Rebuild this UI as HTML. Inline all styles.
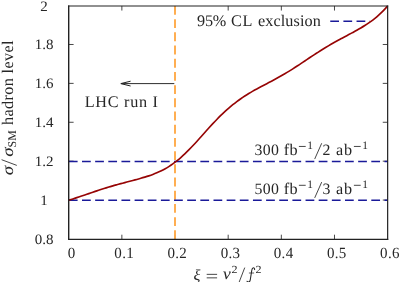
<!DOCTYPE html>
<html><head><meta charset="utf-8"><title>plot</title>
<style>
html,body{margin:0;padding:0;background:#fff;overflow:hidden}
svg{display:block;will-change:transform;text-rendering:geometricPrecision;font-family:"Liberation Serif",serif;fill:#262626}
.tk text{font-size:15px}
.an{font-size:16.2px}
.ln{stroke:#262626;stroke-width:0.85;fill:none}
.it{font-style:italic}
</style></head><body>
<svg width="399" height="282" viewBox="0 0 399 282">
<rect width="399" height="282" fill="#fff"/>
<g stroke="#1a1a1a" fill="none" stroke-width="0.8"><path d="M121.86,239.30 v-4.6 M121.86,5.95 v4.6"/><path d="M175.02,239.30 v-4.6 M175.02,5.95 v4.6"/><path d="M228.18,239.30 v-4.6 M228.18,5.95 v4.6"/><path d="M281.33,239.30 v-4.6 M281.33,5.95 v4.6"/><path d="M334.49,239.30 v-4.6 M334.49,5.95 v4.6"/><path d="M68.70,200.06 h4.9 M387.65,200.06 h-4.9"/><path d="M68.70,161.17 h4.9 M387.65,161.17 h-4.9"/><path d="M68.70,122.27 h4.9 M387.65,122.27 h-4.9"/><path d="M68.70,83.38 h4.9 M387.65,83.38 h-4.9"/><path d="M68.70,44.49 h4.9 M387.65,44.49 h-4.9"/></g>
<!-- orange vertical -->
<path d="M175,5.95 V239.3" stroke="#ffab4a" stroke-width="1.9" stroke-dasharray="8.9 4.3" fill="none"/>
<!-- blue dashed -->
<g stroke="#1a1a99" stroke-width="1.5" stroke-dasharray="8.75 4.4" fill="none">
<path d="M68.85,161.45 H387.65"/>
<path d="M68.85,200.3 H387.65"/>
<path d="M330.25,21.3 H370"/>
</g>
<!-- curve -->
<path d="M68.80,200.10 C69.47,199.91 71.47,199.34 72.80,198.93 C74.13,198.52 75.47,198.09 76.80,197.66 C78.13,197.23 79.47,196.79 80.80,196.34 C82.13,195.89 83.47,195.44 84.80,194.98 C86.13,194.52 87.47,194.06 88.80,193.60 C90.13,193.14 91.47,192.68 92.80,192.23 C94.13,191.78 95.47,191.33 96.80,190.89 C98.13,190.45 99.47,190.00 100.80,189.57 C102.13,189.14 103.47,188.72 104.80,188.30 C106.13,187.88 107.47,187.47 108.80,187.07 C110.13,186.67 111.47,186.27 112.80,185.89 C114.13,185.50 115.47,185.13 116.80,184.76 C118.13,184.39 119.47,184.03 120.80,183.67 C122.13,183.31 123.47,182.95 124.80,182.60 C126.13,182.25 127.47,181.90 128.80,181.55 C130.13,181.20 131.47,180.86 132.80,180.51 C134.13,180.16 135.47,179.80 136.80,179.44 C138.13,179.08 139.47,178.71 140.80,178.33 C142.13,177.95 143.47,177.55 144.80,177.14 C146.13,176.73 147.47,176.31 148.80,175.86 C150.13,175.41 151.47,174.94 152.80,174.44 C154.13,173.94 155.47,173.41 156.80,172.84 C158.13,172.27 159.47,171.68 160.80,171.03 C162.13,170.38 163.47,169.70 164.80,168.96 C166.13,168.22 167.47,167.43 168.80,166.59 C170.13,165.75 171.47,164.85 172.80,163.90 C174.13,162.95 175.47,161.94 176.80,160.88 C178.13,159.82 179.47,158.70 180.80,157.53 C182.13,156.36 183.47,155.14 184.80,153.88 C186.13,152.62 187.47,151.30 188.80,149.95 C190.13,148.60 191.47,147.20 192.80,145.78 C194.13,144.36 195.47,142.91 196.80,141.44 C198.13,139.97 199.47,138.48 200.80,136.99 C202.13,135.50 203.47,133.99 204.80,132.50 C206.13,131.01 207.47,129.51 208.80,128.04 C210.13,126.57 211.47,125.11 212.80,123.68 C214.13,122.25 215.47,120.83 216.80,119.46 C218.13,118.08 219.47,116.74 220.80,115.43 C222.13,114.12 223.47,112.85 224.80,111.62 C226.13,110.39 227.47,109.20 228.80,108.05 C230.13,106.90 231.47,105.78 232.80,104.70 C234.13,103.62 235.47,102.59 236.80,101.59 C238.13,100.59 239.47,99.63 240.80,98.70 C242.13,97.77 243.47,96.87 244.80,96.00 C246.13,95.13 247.47,94.31 248.80,93.50 C250.13,92.69 251.47,91.90 252.80,91.14 C254.13,90.38 255.47,89.65 256.80,88.92 C258.13,88.19 259.47,87.48 260.80,86.78 C262.13,86.08 263.47,85.39 264.80,84.69 C266.13,83.99 267.47,83.30 268.80,82.60 C270.13,81.90 271.47,81.20 272.80,80.49 C274.13,79.78 275.47,79.05 276.80,78.32 C278.13,77.59 279.47,76.85 280.80,76.09 C282.13,75.33 283.47,74.56 284.80,73.77 C286.13,72.98 287.47,72.18 288.80,71.36 C290.13,70.54 291.47,69.71 292.80,68.87 C294.13,68.03 295.47,67.17 296.80,66.30 C298.13,65.43 299.47,64.56 300.80,63.67 C302.13,62.79 303.47,61.88 304.80,60.99 C306.13,60.10 307.47,59.20 308.80,58.31 C310.13,57.42 311.47,56.53 312.80,55.65 C314.13,54.77 315.47,53.89 316.80,53.03 C318.13,52.17 319.47,51.32 320.80,50.48 C322.13,49.64 323.47,48.81 324.80,48.00 C326.13,47.19 327.47,46.39 328.80,45.60 C330.13,44.81 331.47,44.04 332.80,43.28 C334.13,42.52 335.47,41.77 336.80,41.03 C338.13,40.29 339.47,39.57 340.80,38.85 C342.13,38.13 343.47,37.42 344.80,36.71 C346.13,36.00 347.47,35.30 348.80,34.59 C350.13,33.88 351.47,33.17 352.80,32.45 C354.13,31.73 355.47,31.01 356.80,30.26 C358.13,29.52 359.47,28.76 360.80,27.98 C362.13,27.20 363.47,26.40 364.80,25.56 C366.13,24.72 367.47,23.85 368.80,22.93 C370.13,22.01 371.47,21.06 372.80,20.04 C374.13,19.02 375.47,17.96 376.80,16.82 C378.13,15.68 379.47,14.49 380.80,13.20 C382.13,11.91 383.68,10.29 384.80,9.09 C385.92,7.89 387.05,6.51 387.50,6.00" stroke="#960404" stroke-width="1.65" fill="none" stroke-linecap="butt"/>
<!-- frame -->
<g stroke="#222" fill="none">
<path d="M68.7,5.4 V239.95000000000002" stroke-width="1.4"/>
<path d="M387.65,5.4 V239.95000000000002" stroke-width="1.2"/>
<path d="M68.0,5.95 H388.25" stroke-width="1.1"/>
<path d="M68.0,239.3 H388.25" stroke-width="1.3"/>
<path d="M174.3,83.6 H121.5" stroke-width="0.95"/>
<path d="M130.6,81.2 L120.8,83.6 L130.6,86" stroke-width="1"/>
</g>
<g class="tk"><text transform="translate(44,243.85) scale(1,0.96)" text-anchor="middle">0.8</text><text transform="translate(44,204.96) scale(1,0.96)" text-anchor="middle">1</text><text transform="translate(44,166.07) scale(1,0.96)" text-anchor="middle">1.2</text><text transform="translate(44,127.17) scale(1,0.96)" text-anchor="middle">1.4</text><text transform="translate(44,88.28) scale(1,0.96)" text-anchor="middle">1.6</text><text transform="translate(44,49.39) scale(1,0.96)" text-anchor="middle">1.8</text><text transform="translate(44,10.50) scale(1,0.96)" text-anchor="middle">2</text><text transform="translate(71.50,258.2) scale(1,1.04)" text-anchor="middle">0</text><text transform="translate(124.16,258.2) scale(1,1.04)" text-anchor="middle" style="letter-spacing:0.3px">0.1</text><text transform="translate(177.32,258.2) scale(1,1.04)" text-anchor="middle" style="letter-spacing:0.3px">0.2</text><text transform="translate(230.48,258.2) scale(1,1.04)" text-anchor="middle" style="letter-spacing:0.3px">0.3</text><text transform="translate(283.63,258.2) scale(1,1.04)" text-anchor="middle" style="letter-spacing:0.3px">0.4</text><text transform="translate(336.79,258.2) scale(1,1.04)" text-anchor="middle" style="letter-spacing:0.3px">0.5</text><text transform="translate(389.95,258.2) scale(1,1.04)" text-anchor="middle" style="letter-spacing:0.3px">0.6</text></g>
<g class="an">
<text x="197" y="25.9" textLength="29.3" lengthAdjust="spacing">95%</text>
<text x="231.1" y="25.9" textLength="21.2" lengthAdjust="spacing">CL</text>
<text x="257.9" y="25.9" textLength="63" lengthAdjust="spacing">exclusion</text>
<text x="84.7" y="106.9" textLength="73.2" lengthAdjust="spacing">LHC run I</text>
<text x="254.6" y="155.45" textLength="42.9" lengthAdjust="spacing"><tspan font-size="15.8px">300</tspan> fb</text><path d="M298.9,146.45 H305.7" class="ln"/><text x="307.2" y="149.05" font-size="11.4px">1</text><path d="M314.7,159.05 L321.7,143.25" class="ln"/><text x="322.4" y="155.45" textLength="29.7" lengthAdjust="spacing"><tspan font-size="15.8px">2</tspan> ab</text><path d="M353.9,146.45 H360.7" class="ln"/><text x="362.2" y="149.05" font-size="11.4px">1</text>
<text x="254.6" y="194.3" textLength="42.9" lengthAdjust="spacing"><tspan font-size="15.8px">500</tspan> fb</text><path d="M298.9,185.30 H305.7" class="ln"/><text x="307.2" y="187.90" font-size="11.4px">1</text><path d="M314.7,197.90 L321.7,182.10" class="ln"/><text x="322.4" y="194.3" textLength="29.7" lengthAdjust="spacing"><tspan font-size="15.8px">3</tspan> ab</text><path d="M353.9,185.30 H360.7" class="ln"/><text x="362.2" y="187.90" font-size="11.4px">1</text>
<!-- x label -->
<text transform="translate(193.6,279.7) scale(1.08,1)" class="it" font-size="15px">ξ</text>
<path d="M206.7,274.35 H217.1 M206.7,277.85 H217.1" class="ln"/>
<text transform="translate(223,278.8) scale(1.08,1)" class="it">v</text>
<text transform="translate(231.6,273.2) scale(1.12,1)" font-size="10.8px">2</text>
<path d="M239.0,282.5 L244.75,267.6" class="ln"/>
<path d="M254.6,269.6 C254.8,268.4 253.9,267.6 253.0,267.9 C252.2,268.2 252.0,269.2 251.8,270.2 L250.3,279.6 C250.1,280.8 249.6,281.9 248.6,282.0 C247.8,282.1 247.2,281.8 247.0,281.2" style="stroke:#262626;stroke-width:1.05;fill:none;stroke-linecap:round"/><path d="M248.9,273 H254.1" class="ln" style="stroke-width:0.75"/>
<text transform="translate(255.6,273.2) scale(1.12,1)" font-size="10.8px">2</text>
<!-- y label -->
<g transform="translate(13.3,175.3) rotate(-90)">
<text transform="translate(0,0) scale(1.17,1)" class="it">σ</text>
<path d="M9.9,3.5 L15.6,-11.7" class="ln"/>
<text transform="translate(18.5,0) scale(1.17,1)" class="it">σ</text>
<text x="27.9" y="2.8" font-size="11.8px">SM</text>
<text x="50.4" y="0" textLength="84.4" lengthAdjust="spacing">hadron level</text>
</g>
</g>
</svg>
</body></html>
